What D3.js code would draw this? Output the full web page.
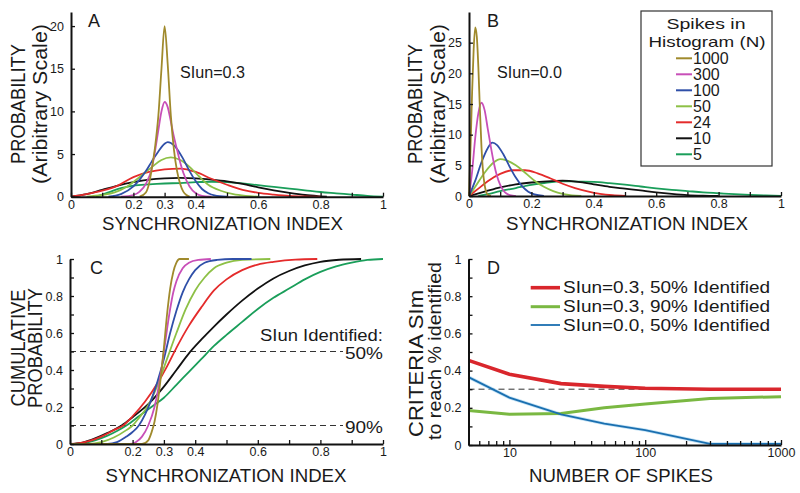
<!DOCTYPE html>
<html><head><meta charset="utf-8">
<script src="https://cdn.jsdelivr.net/npm/d3@7"></script>
<style>
body{margin:0;background:#fff;}
svg text{font-family:"Liberation Sans",Arial,Helvetica,sans-serif;fill:#1a1a1a;}
</style></head>
<body><svg id="c" width="800" height="493"></svg>
<script>
// ---------- DATA ----------
const seriesN = ["1000","300","100","50","24","10","5"];
const seriesColors = ["#a08a2c","#c84fb8","#2f4fa8","#8dc046","#e42b2b","#111111","#1a9e5a"];

// Panel A: SIun = 0.3, probability (arbitrary scale) vs synchronization index
const pdfA_1000 = [[0.22,0],[0.24,0.5],[0.25,1.5],[0.26,3.5],[0.27,6],[0.28,9.5],[0.29,15],[0.30,20],[0.31,15.5],[0.32,9.5],[0.33,5.5],[0.34,3],[0.35,1.5],[0.36,0.6],[0.37,0.2],[0.38,0]];
const pdfA_300  = [[0.16,0],[0.2,0.2],[0.22,0.6],[0.24,1.5],[0.26,3.5],[0.27,5.5],[0.28,7.8],[0.29,10],[0.30,11.1],[0.31,10.5],[0.32,8.8],[0.33,7],[0.34,5.5],[0.35,4],[0.36,2.8],[0.38,1.2],[0.40,0.4],[0.42,0.1],[0.45,0]];
const pdfA_100  = [[0.12,0],[0.16,0.3],[0.2,1.2],[0.22,2],[0.24,3],[0.26,4.2],[0.28,5.3],[0.30,6.2],[0.31,6.4],[0.32,6.3],[0.34,5.6],[0.36,4.4],[0.38,3],[0.40,1.8],[0.42,0.9],[0.44,0.4],[0.46,0.15],[0.5,0]];
const pdfA_50   = [[0.05,0],[0.1,0.2],[0.14,0.5],[0.18,1.2],[0.22,2.3],[0.26,3.5],[0.29,4.3],[0.32,4.6],[0.35,4.3],[0.38,3.5],[0.41,2.4],[0.44,1.4],[0.48,0.7],[0.52,0.3],[0.56,0.1],[0.6,0]];
const pdfA_24   = [[0,0],[0.05,0.3],[0.1,0.7],[0.15,1.3],[0.2,2.3],[0.25,2.9],[0.3,3.2],[0.35,3.3],[0.4,2.9],[0.45,2.1],[0.5,1.4],[0.55,0.8],[0.6,0.45],[0.65,0.25],[0.7,0.1],[0.75,0.03],[0.8,0]];
const pdfA_10   = [[0,0],[0.05,0.3],[0.1,0.8],[0.15,1.3],[0.2,1.7],[0.25,2],[0.3,2.15],[0.35,2.2],[0.4,2.15],[0.45,2],[0.5,1.8],[0.55,1.5],[0.6,1.1],[0.65,0.75],[0.7,0.45],[0.75,0.2],[0.8,0.05],[0.82,0]];
const pdfA_5    = [[0.08,0],[0.12,0.5],[0.16,1],[0.2,1.3],[0.25,1.45],[0.3,1.55],[0.35,1.6],[0.4,1.7],[0.45,1.75],[0.5,1.7],[0.55,1.55],[0.6,1.35],[0.65,1.15],[0.7,0.95],[0.75,0.75],[0.8,0.55],[0.85,0.4],[0.9,0.25],[0.95,0.1],[1.0,0]];

// Panel B: SIun = 0.0
const pdfB_1000 = [[0,0],[0.005,8],[0.01,17],[0.015,24],[0.02,27.5],[0.025,26],[0.03,21],[0.035,14],[0.04,8],[0.045,4],[0.05,1.8],[0.055,0.7],[0.06,0.2],[0.07,0]];
const pdfB_300  = [[0,0],[0.01,4],[0.02,9.5],[0.03,13.5],[0.04,15.2],[0.05,14],[0.06,11],[0.07,8],[0.08,5.3],[0.09,3.2],[0.1,1.8],[0.11,0.9],[0.12,0.4],[0.14,0.05],[0.15,0]];
const pdfB_100  = [[0,0],[0.02,2.5],[0.04,5.5],[0.06,7.8],[0.075,8.7],[0.09,8.3],[0.11,6.8],[0.13,4.8],[0.15,3],[0.17,1.6],[0.19,0.7],[0.21,0.25],[0.24,0]];
const pdfB_50   = [[0,0],[0.02,1.5],[0.05,3.8],[0.08,5.5],[0.1,6],[0.12,5.8],[0.15,5],[0.18,3.8],[0.21,2.5],[0.24,1.5],[0.27,0.8],[0.3,0.35],[0.33,0.1],[0.36,0]];
const pdfB_24   = [[0,0],[0.03,1.2],[0.06,2.4],[0.1,3.6],[0.14,4.2],[0.18,4.2],[0.22,3.7],[0.26,2.9],[0.3,2],[0.34,1.3],[0.38,0.75],[0.42,0.35],[0.46,0.12],[0.5,0]];
const pdfB_10   = [[0,0],[0.05,0.7],[0.1,1.4],[0.15,1.9],[0.2,2.2],[0.25,2.4],[0.3,2.5],[0.35,2.3],[0.4,1.9],[0.45,1.5],[0.5,1.2],[0.55,0.9],[0.6,0.6],[0.65,0.35],[0.7,0.15],[0.75,0.05],[0.8,0]];
const pdfB_5    = [[0.03,0],[0.06,0.3],[0.1,0.8],[0.15,1.3],[0.2,1.8],[0.25,2.2],[0.3,2.4],[0.35,2.35],[0.4,2.3],[0.45,2.1],[0.5,1.85],[0.55,1.55],[0.6,1.25],[0.65,1],[0.7,0.8],[0.75,0.6],[0.8,0.45],[0.85,0.3],[0.9,0.18],[0.95,0.08],[1,0]];

// Panel C: cumulative probability, SIun = 0.3
const cdf_1000 = [[0,0],[0.23,0],[0.25,0.02],[0.26,0.06],[0.27,0.12],[0.28,0.22],[0.29,0.36],[0.30,0.52],[0.31,0.7],[0.32,0.84],[0.33,0.93],[0.34,0.98],[0.35,1],[0.38,1]];
const cdf_300  = [[0,0],[0.19,0],[0.21,0.01],[0.23,0.04],[0.25,0.1],[0.27,0.2],[0.28,0.28],[0.29,0.38],[0.30,0.5],[0.31,0.62],[0.32,0.73],[0.33,0.82],[0.34,0.88],[0.36,0.95],[0.38,0.98],[0.41,0.995],[0.45,1]];
const cdf_100  = [[0,0],[0.12,0],[0.15,0.01],[0.18,0.04],[0.2,0.065],[0.22,0.1],[0.24,0.16],[0.26,0.24],[0.28,0.34],[0.30,0.46],[0.32,0.6],[0.34,0.72],[0.36,0.82],[0.38,0.89],[0.4,0.94],[0.43,0.98],[0.47,0.995],[0.52,1],[0.58,1]];
const cdf_50   = [[0,0],[0.06,0],[0.1,0.01],[0.14,0.035],[0.18,0.075],[0.2,0.1],[0.22,0.14],[0.25,0.21],[0.28,0.32],[0.31,0.46],[0.34,0.6],[0.37,0.73],[0.4,0.83],[0.43,0.9],[0.46,0.95],[0.5,0.98],[0.55,0.995],[0.64,1]];
const cdf_24   = [[0,0],[0.03,0.005],[0.06,0.015],[0.1,0.04],[0.14,0.075],[0.17,0.1],[0.2,0.15],[0.24,0.23],[0.28,0.33],[0.31,0.42],[0.34,0.52],[0.38,0.64],[0.42,0.74],[0.46,0.83],[0.5,0.89],[0.55,0.94],[0.6,0.97],[0.65,0.985],[0.72,0.997],[0.79,1]];
const cdf_10   = [[0,0],[0.04,0.008],[0.08,0.03],[0.12,0.06],[0.165,0.1],[0.2,0.145],[0.25,0.215],[0.3,0.31],[0.34,0.4],[0.38,0.49],[0.42,0.565],[0.46,0.635],[0.5,0.7],[0.55,0.775],[0.6,0.84],[0.65,0.895],[0.7,0.935],[0.75,0.965],[0.8,0.985],[0.86,0.996],[0.93,1]];
const cdf_5    = [[0,0],[0.04,0.005],[0.08,0.02],[0.12,0.045],[0.15,0.07],[0.18,0.1],[0.22,0.15],[0.26,0.2],[0.3,0.25],[0.34,0.32],[0.38,0.39],[0.42,0.46],[0.46,0.53],[0.5,0.59],[0.55,0.66],[0.6,0.73],[0.65,0.79],[0.7,0.84],[0.75,0.89],[0.8,0.93],[0.85,0.96],[0.9,0.98],[0.95,0.995],[1,1]];
const cdfLevels = [0.5, 0.1];
const cdfLevelLabels = ["50%","90%"];

// Panel D: criteria SIm vs number of spikes
const spikesN = [5,10,24,50,100,300,1000];
const crit03_50 = [0.455,0.38,0.33,0.315,0.305,0.30,0.30];
const crit03_90 = [0.185,0.165,0.17,0.20,0.22,0.25,0.26];
const crit00_50 = [0.365,0.255,0.165,0.115,0.08,0.006,0.006];
const critLabels = ["SIun=0.3, 50% Identified","SIun=0.3, 90% Identified","SIun=0.0, 50% Identified"];
const critColors = ["#d9262c","#7ab842","#1a6fb0"];
const critWidths = [3.6,3,1.8];
const critRef = 0.3;

// tick labels
const xTicksAC = [0,0.1,0.2,0.3,0.4,0.5,0.6,0.7,0.8,0.9,1];
const xTickLabelsAC = ["0","","0.2","0.3","0.4","","0.6","","0.8","","1"];
const xTickLabelsB = ["0","","0.2","","0.4","","0.6","","0.8","","1"];
const yTicksA = [0,5,10,15,20];
const yTicksB = [0,5,10,15,20,25];
const yTicks01 = [0,0.1,0.2,0.3,0.4,0.5,0.6,0.7,0.8,0.9,1];
const yTickLabels01 = ["0","","0.2","","0.4","","0.6","","0.8","","1"];
const xTicksD = [5,6,7,8,9,10,20,30,40,50,60,70,80,90,100,200,300,400,500,600,700,800,900,1000];
const xTickLabelsD = {10:"10",100:"100",1000:"1000"};

// ---------- DRAW ----------
const svg = d3.select("#c");
const pdfA = [pdfA_1000,pdfA_300,pdfA_100,pdfA_50,pdfA_24,pdfA_10,pdfA_5];
const pdfB = [pdfB_1000,pdfB_300,pdfB_100,pdfB_50,pdfB_24,pdfB_10,pdfB_5];
const cdfC = [cdf_1000,cdf_300,cdf_100,cdf_50,cdf_24,cdf_10,cdf_5];

function txt(g, s, x, y, opt={}){
  const t = g.append("text").attr("x",x).attr("y",y).text(s)
    .attr("font-size",opt.size||14)
    .attr("text-anchor",opt.anchor||"start")
    .attr("dominant-baseline","central");
  if(opt.len){t.attr("textLength",opt.len).attr("lengthAdjust","spacingAndGlyphs");}
  if(opt.rot){t.attr("transform",`rotate(-90,${x},${y})`);}
  return t;
}

function axes(g, x, y, xt, xl, yt, yl){
  const xa = d3.axisBottom(x).tickValues(xt).tickSizeInner(-4).tickSizeOuter(0).tickPadding(3)
     .tickFormat((d,i)=>xl(d,i));
  const gx = g.append("g").attr("transform",`translate(0,${y.range()[0]})`).call(xa);
  const ya = d3.axisLeft(y).tickValues(yt).tickSizeInner(-4).tickSizeOuter(0).tickPadding(7)
     .tickFormat((d,i)=>yl(d,i));
  const gy = g.append("g").attr("transform",`translate(${x.range()[0]},0)`).call(ya);
  [gx,gy].forEach(a=>{
    a.select(".domain").attr("stroke","#111").attr("stroke-width",2);
    a.selectAll(".tick line").attr("stroke","#111").attr("stroke-width",1.3);
    a.selectAll(".tick text").attr("font-size",12.5).attr("fill","#1a1a1a")
      .attr("font-family","'Liberation Sans',Arial,sans-serif");
  });
  return [gx,gy];
}

// ----- Panel A -----
{
  const x = d3.scaleLinear([0,1],[71,383]);
  const y = d3.scaleLinear([0,21.65],[196.7,12]);
  const g = svg.append("g");
  const line = d3.line().x(d=>x(d[0])).y(d=>y(d[1])).curve(d3.curveMonotoneX);
  pdfA.slice().reverse().forEach((s,i)=>{
    const k = pdfA.length-1-i;
    g.append("path").attr("d",line(s)).attr("fill","none").attr("stroke",seriesColors[k]).attr("stroke-width",1.8);
  });
  axes(g,x,y,xTicksAC,(d,i)=>xTickLabelsAC[i],yTicksA,d=>d3.format("d")(d));
  txt(g,"A",88,21,{size:18});
  txt(g,"SIun=0.3",180,72,{size:16,len:65});
  txt(g,"PROBABILITY",17.5,104,{size:20,rot:true,anchor:"middle",len:120});
  txt(g,"(Aribitrary Scale)",40,104,{size:20,rot:true,anchor:"middle",len:160});
  txt(g,"SYNCHRONIZATION INDEX",222.5,223,{size:18.5,anchor:"middle",len:241});
}
// ----- Panel B -----
{
  const x = d3.scaleLinear([0,1],[469,781]);
  const y = d3.scaleLinear([0,30],[196,12]);
  const g = svg.append("g");
  const line = d3.line().x(d=>x(d[0])).y(d=>y(d[1])).curve(d3.curveMonotoneX);
  pdfB.slice().reverse().forEach((s,i)=>{
    const k = pdfB.length-1-i;
    g.append("path").attr("d",line(s)).attr("fill","none").attr("stroke",seriesColors[k]).attr("stroke-width",1.8);
  });
  axes(g,x,y,xTicksAC,(d,i)=>xTickLabelsB[i],yTicksB,d=>d3.format("d")(d));
  txt(g,"B",487,21,{size:18});
  txt(g,"SIun=0.0",497,72,{size:16,len:65});
  txt(g,"PROBABILITY",415,104,{size:20,rot:true,anchor:"middle",len:120});
  txt(g,"(Aribitrary Scale)",438,104,{size:20,rot:true,anchor:"middle",len:160});
  txt(g,"SYNCHRONIZATION INDEX",627,223,{size:18.5,anchor:"middle",len:242});
  // legend
  g.append("rect").attr("x",641).attr("y",11).attr("width",131).attr("height",155)
    .attr("fill","#fff").attr("stroke","#333").attr("stroke-width",1.2);
  txt(g,"Spikes in",706,23,{size:15,anchor:"middle",len:79});
  txt(g,"Histogram (N)",707,41,{size:15,anchor:"middle",len:117});
  seriesN.forEach((n,i)=>{
    const yy = 58.3 + i*16;
    g.append("line").attr("x1",676).attr("x2",692).attr("y1",yy).attr("y2",yy)
      .attr("stroke",seriesColors[i]).attr("stroke-width",2);
    txt(g,n,693,yy,{size:16});
  });
}
// ----- Panel C -----
{
  const x = d3.scaleLinear([0,1],[70,383]);
  const y = d3.scaleLinear([0,1],[444,259]);
  const g = svg.append("g");
  cdfLevels.forEach(v=>{
    g.append("line").attr("x1",x(0)).attr("x2",343).attr("y1",y(v)).attr("y2",y(v))
      .attr("stroke","#333").attr("stroke-width",1).attr("stroke-dasharray","6,4");
  });
  const line = d3.line().x(d=>x(d[0])).y(d=>y(d[1])).curve(d3.curveMonotoneX);
  cdfC.slice().reverse().forEach((s,i)=>{
    const k = cdfC.length-1-i;
    g.append("path").attr("d",line(s)).attr("fill","none").attr("stroke",seriesColors[k]).attr("stroke-width",1.8);
  });
  axes(g,x,y,xTicksAC,(d,i)=>xTickLabelsAC[i],yTicks01,(d,i)=>yTickLabels01[i]);
  txt(g,"C",90,268,{size:18});
  txt(g,"SIun Identified:",383,335,{size:16,anchor:"end",len:123});
  cdfLevelLabels.forEach((s,i)=>txt(g,s,383,y(cdfLevels[i])+2,{size:16,anchor:"end",len:38}));
  txt(g,"CUMULATIVE",18.3,348,{size:20,rot:true,anchor:"middle",len:117});
  txt(g,"PROBABILITY",35,348,{size:20,rot:true,anchor:"middle",len:120});
  txt(g,"SYNCHRONIZATION INDEX",226,475,{size:18.5,anchor:"middle",len:241});
}
// ----- Panel D -----
{
  const x = d3.scaleLog([5,1000],[468.5,781]);
  const y = d3.scaleLinear([0,1],[445,259]);
  const g = svg.append("g");
  g.append("line").attr("x1",x(5)).attr("x2",x(1000)).attr("y1",y(critRef)).attr("y2",y(critRef))
    .attr("stroke","#333").attr("stroke-width",1).attr("stroke-dasharray","6,4");
  const series = [crit03_50,crit03_90,crit00_50];
  const line = d3.line().x((d,i)=>x(spikesN[i])).y(d=>y(d));
  g.append("path").attr("d",line(crit00_50)).attr("fill","none").attr("stroke","#9fd0ee").attr("stroke-width",3.5).attr("opacity",0.6);
  series.forEach((s,i)=>{
    g.append("path").attr("d",line(s)).attr("fill","none").attr("stroke",critColors[i]).attr("stroke-width",critWidths[i]);
  });
  const [gx,gy] = axes(g,x,y,xTicksD,d=>xTickLabelsD[d]||"",yTicks01,(d,i)=>yTickLabels01[i]);
  gx.selectAll(".tick line").attr("y2",d=>xTickLabelsD[d]?-5:-4);
  txt(g,"D",487,268,{size:18});
  critLabels.forEach((s,i)=>{
    const yy = [287.7,306.7,325][i];
    g.append("line").attr("x1",530.7).attr("x2",560).attr("y1",yy).attr("y2",yy)
      .attr("stroke",critColors[i]).attr("stroke-width",critWidths[i]);
    txt(g,s,563,yy,{size:16,len:207});
  });
  txt(g,"CRITERIA SIm",415.5,363.5,{size:20,rot:true,anchor:"middle",len:147});
  txt(g,"to reach % identified",434,351,{size:19,rot:true,anchor:"middle",len:178});
  txt(g,"NUMBER OF SPIKES",621,475,{size:18.5,anchor:"middle",len:184});
}
</script></body></html>
